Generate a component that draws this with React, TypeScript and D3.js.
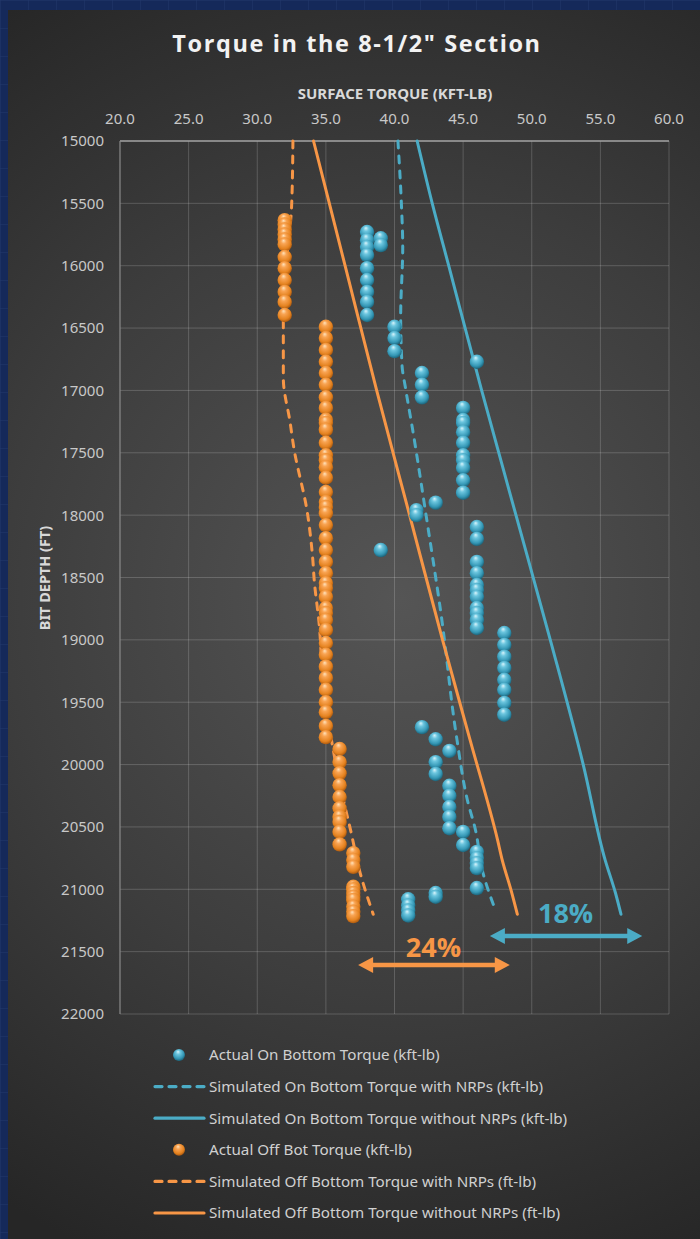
import React from 'react';
import * as d3 from 'd3';

const W = 700;
const H = 1239;

// [torque kft-lb, bit depth ft]
const actualOnBottom: [number, number][] = [
  [38, 15730], [38, 15795], [38, 15850], [38, 15915], [38, 16020], [38, 16115], [38, 16210], [38, 16290], [38, 16395],
  [39, 15780], [39, 15835],
  [40, 16490], [40, 16580], [40, 16685],
  [46, 16770],
  [42, 16860], [42, 16955], [42, 17055],
  [45, 17140], [45, 17237], [45, 17260], [45, 17335], [45, 17420], [45, 17520], [45, 17560], [45, 17620], [45, 17720], [45, 17820],
  [43, 17900], [41.6, 17960], [41.6, 18000], [39, 18280],
  [46, 18095], [46, 18190],
  [46, 18375], [46, 18465], [46, 18560], [46, 18600], [46, 18655], [46, 18745], [46, 18785], [46, 18840], [46, 18905],
  [48, 18945], [48, 19040], [48, 19135], [48, 19225], [48, 19320], [48, 19400], [48, 19505], [48, 19600],
  [42, 19700], [43, 19797], [44, 19890], [43, 19980], [43, 20075],
  [44, 20170], [44, 20250], [44, 20340], [44, 20420], [44, 20510],
  [45, 20540], [45, 20645],
  [46, 20700], [46, 20750], [46, 20790], [46, 20830], [46, 20990],
  [43, 21030], [43, 21060],
  [41, 21080], [41, 21130], [41, 21170], [41, 21210],
];

const actualOffBottom: [number, number][] = [
  [32, 15635], [32, 15670], [32, 15710], [32, 15750], [32, 15790], [32, 15830], [32, 15930], [32, 16020], [32, 16115], [32, 16210], [32, 16290], [32, 16395],
  [35, 16490], [35, 16580], [35, 16675], [35, 16770], [35, 16860], [35, 16955], [35, 17055], [35, 17140], [35, 17235], [35, 17260],
  [35, 17315], [35, 17420], [35, 17520], [35, 17560], [35, 17615], [35, 17700], [35, 17815], [35, 17895], [35, 17935], [35, 17985],
  [35, 18080], [35, 18185], [35, 18280], [35, 18375], [35, 18465], [35, 18545], [35, 18585], [35, 18655], [35, 18745], [35, 18785],
  [35, 18840], [35, 18920], [35, 19025], [35, 19120], [35, 19215], [35, 19305], [35, 19400], [35, 19500], [35, 19580], [35, 19690], [35, 19780],
  [36, 19875], [36, 19980], [36, 20070], [36, 20165], [36, 20260], [36, 20350], [36, 20420], [36, 20460], [36, 20540], [36, 20640],
  [37, 20710], [37, 20765], [37, 20820], [37, 20980], [37, 21000], [37, 21030], [37, 21060], [37, 21085], [37, 21140], [37, 21180], [37, 21215],
];

const simOnWithNRP: [number, number][] = [
  [40.25, 15000], [40.5, 15500], [40.6, 15850], [40.45, 16400], [40.55, 16800], [40.8, 16980], [41.3, 17300],
  [42.3, 18000], [43.4, 18800], [44.55, 19800], [45.3, 20280], [45.9, 20525], [46.45, 20870], [47.4, 21180],
];

const simOnWithoutNRP: [number, number][] = [
  [41.65, 15000], [42.75, 15500], [43.95, 16000], [46.35, 17000], [48.85, 18000], [51.35, 19000],
  [53.75, 20000], [55.35, 20766], [56.1, 21030], [56.5, 21200],
];

const simOffWithNRP: [number, number][] = [
  [32.6, 15000], [32.5, 15530], [32.1, 16000], [31.9, 16410], [31.9, 16900], [32.4, 17260], [32.65, 17450], [33.65, 17980],
  [34.05, 18360], [34.15, 18520], [34.5, 18860], [34.9, 19480], [35.5, 19860], [36.1, 20200], [36.8, 20525], [37.5, 20870], [38.45, 21200],
];

const simOffWithoutNRP: [number, number][] = [
  [34.1, 15000], [36.4, 16000], [38.7, 17000], [41.1, 18000], [43.5, 19000], [45.5, 19800], [47.5, 20600],
  [47.85, 20766], [48.55, 21030], [48.95, 21200],
];

// percentage call-outs: arrow spans torque from..to at a depth, label sits above
const callouts = [
  { label: '24%', from: 37.35, to: 48.4, depth: 21607, labelDepth: 21545, color: '#f79646' },
  { label: '18%', from: 46.95, to: 58.05, depth: 21375, labelDepth: 21272, color: '#4bacc6' },
];

const legendItems = [
  { label: 'Actual On Bottom Torque (kft-lb)', kind: 'dot', color: 'blue' },
  { label: 'Simulated On Bottom Torque with NRPs (kft-lb)', kind: 'dash', color: 'blue' },
  { label: 'Simulated On Bottom Torque without NRPs (kft-lb)', kind: 'line', color: 'blue' },
  { label: 'Actual Off Bot Torque (kft-lb)', kind: 'dot', color: 'orange' },
  { label: 'Simulated Off Bottom Torque with NRPs (ft-lb)', kind: 'dash', color: 'orange' },
  { label: 'Simulated Off Bottom Torque without NRPs (ft-lb)', kind: 'line', color: 'orange' },
];

const BLUE = '#4bacc6';
const ORANGE = '#f79646';
const FONT = "'Noto Sans', 'Open Sans', sans-serif";

const plot = { left: 120, right: 669, top: 141, bottom: 1014 };

export default function App() {
  const x = d3.scaleLinear().domain([20, 60]).range([plot.left, plot.right]);
  const y = d3.scaleLinear().domain([15000, 22000]).range([plot.top, plot.bottom]);

  const line = d3
    .line<[number, number]>()
    .x((d) => x(d[0]))
    .y((d) => y(d[1]))
    .curve(d3.curveMonotoneY);

  const xTicks = x.ticks(8);
  const yTicks = y.ticks(14);

  const arrow = (x1: number, x2: number, yy: number) => {
    const hl = 15, hw = 8, sw = 2.2;
    return `M${x1},${yy} L${x1 + hl},${yy - hw} L${x1 + hl},${yy - sw} L${x2 - hl},${yy - sw} L${x2 - hl},${yy - hw} L${x2},${yy} L${x2 - hl},${yy + hw} L${x2 - hl},${yy + sw} L${x1 + hl},${yy + sw} L${x1 + hl},${yy + hw} Z`;
  };

  const legendTop = 1055;
  const legendStep = 31.6;

  return (
    <svg width={W} height={H} style={{ position: 'absolute', left: 0, top: 0, display: 'block' }}>
      <defs>
        <pattern id="bp" width="28" height="28" patternUnits="userSpaceOnUse">
          <rect width="28" height="28" fill="#15295a" />
          <path d="M28 0 L0 0 0 28" fill="none" stroke="#22386c" strokeWidth="1" />
        </pattern>
        <radialGradient id="panel" gradientUnits="userSpaceOnUse" cx="400" cy="600" r="720">
          <stop offset="0" stopColor="#555555" />
          <stop offset="0.55" stopColor="#3d3d3d" />
          <stop offset="1" stopColor="#262626" />
        </radialGradient>
        <radialGradient id="sphBlue" cx="45%" cy="40%" r="60%" fx="42%" fy="22%">
          <stop offset="0" stopColor="#d8f4fb" />
          <stop offset="0.3" stopColor="#6cc6df" />
          <stop offset="0.75" stopColor="#3497b5" />
          <stop offset="1" stopColor="#1c6379" />
        </radialGradient>
        <radialGradient id="sphOrange" cx="45%" cy="40%" r="60%" fx="42%" fy="22%">
          <stop offset="0" stopColor="#ffe2bb" />
          <stop offset="0.3" stopColor="#f9a453" />
          <stop offset="0.75" stopColor="#e4821f" />
          <stop offset="1" stopColor="#a9580f" />
        </radialGradient>
      </defs>

      <rect width={W} height={H} fill="url(#bp)" />
      <rect x={8} y={10} width={W - 8} height={H - 10} fill="url(#panel)" />

      <text x={357} y={52} textAnchor="middle" fill="#f2f2f2" fontFamily="'Open Sans', sans-serif" fontWeight={700} fontSize={23.5} letterSpacing={1.6}>
        {'Torque in the 8-1/2" Section'}
      </text>

      {/* grid */}
      <g stroke="rgba(255,255,255,0.18)" strokeWidth={1}>
        {xTicks.slice(1).map((t) => (
          <line key={'gx' + t} x1={x(t)} x2={x(t)} y1={plot.top} y2={plot.bottom} />
        ))}
        {yTicks.slice(1).map((t) => (
          <line key={'gy' + t} x1={plot.left} x2={plot.right} y1={y(t)} y2={y(t)} />
        ))}
      </g>
      <line x1={plot.left} x2={plot.right} y1={plot.top} y2={plot.top} stroke="#a5a5a5" strokeWidth={1.5} />
      <line x1={plot.left} x2={plot.left} y1={plot.top} y2={plot.bottom} stroke="#8a8a8a" strokeWidth={1.2} />

      {/* axes labels */}
      <g fontFamily={FONT} fontSize={15} fill="#c8c8c8">
        {xTicks.map((t) => (
          <text key={'xt' + t} x={x(t)} y={124} textAnchor="middle">
            {d3.format('.1f')(t)}
          </text>
        ))}
        {yTicks.map((t) => (
          <text key={'yt' + t} x={104} y={y(t)} dy="0.36em" textAnchor="end">
            {t}
          </text>
        ))}
      </g>
      <text x={395} y={99} textAnchor="middle" fill="#d9d9d9" fontFamily={FONT} fontWeight={700} fontSize={15}>
        SURFACE TORQUE (KFT-LB)
      </text>
      <text transform={`translate(50,${578}) rotate(-90)`} textAnchor="middle" fill="#d9d9d9" fontFamily={FONT} fontWeight={700} fontSize={14.5}>
        BIT DEPTH (FT)
      </text>

      {/* simulated lines */}
      <g fill="none" strokeWidth={3} strokeLinecap="round" strokeLinejoin="round">
        <path d={line(simOnWithNRP) || ''} stroke={BLUE} strokeDasharray="7 8" />
        <path d={line(simOnWithoutNRP) || ''} stroke={BLUE} />
        <path d={line(simOffWithNRP) || ''} stroke={ORANGE} strokeDasharray="7 8" />
        <path d={line(simOffWithoutNRP) || ''} stroke={ORANGE} />
      </g>

      {/* actual readings */}
      <g>
        {actualOnBottom.map((d, i) => (
          <circle key={'ob' + i} cx={x(d[0])} cy={y(d[1])} r={7.2} fill="url(#sphBlue)" />
        ))}
        {actualOffBottom.map((d, i) => (
          <circle key={'of' + i} cx={x(d[0])} cy={y(d[1])} r={7.2} fill="url(#sphOrange)" />
        ))}
      </g>

      {/* call-outs */}
      {callouts.map((c) => (
        <g key={c.label}>
          <path d={arrow(x(c.from), x(c.to), y(c.depth))} fill={c.color} />
          <text x={x((c.from + c.to) / 2) - 0.5} y={y(c.labelDepth)} textAnchor="middle" fill={c.color} fontFamily="'Open Sans', sans-serif" fontWeight={700} fontSize={27}>
            {c.label}
          </text>
        </g>
      ))}

      {/* legend */}
      <g fontFamily={FONT} fontSize={15.2} fill="#d0d0d0">
        {legendItems.map((it, i) => {
          const yy = legendTop + i * legendStep;
          const col = it.color === 'blue' ? BLUE : ORANGE;
          return (
            <g key={it.label}>
              {it.kind === 'dot' ? (
                <circle cx={179} cy={yy} r={6} fill={it.color === 'blue' ? 'url(#sphBlue)' : 'url(#sphOrange)'} />
              ) : (
                <line x1={155} x2={204} y1={yy} y2={yy} stroke={col} strokeWidth={3.2} strokeLinecap="round" strokeDasharray={it.kind === 'dash' ? '7 7' : undefined} />
              )}
              <text x={209} y={yy} dy="0.35em">
                {it.label}
              </text>
            </g>
          );
        })}
      </g>
    </svg>
  );
}
